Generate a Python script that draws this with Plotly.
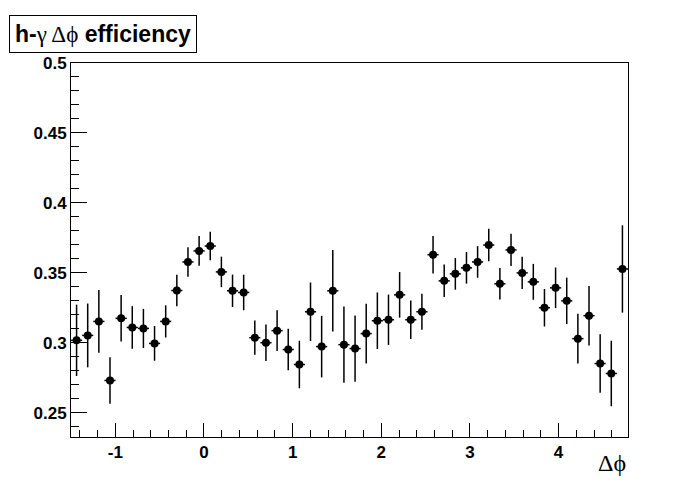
import numpy as np
import plotly.graph_objects as go

# ---- data ----
x_min = -1.5
n_bins = 50
bin_width = 2 * np.pi / n_bins

efficiency = [
    0.3018, 0.3053, 0.3153, 0.2731, 0.3175, 0.3110, 0.3103, 0.2996, 0.3153, 0.3374,
    0.3578, 0.3657, 0.3692, 0.3507, 0.3372, 0.3360, 0.3037, 0.3001, 0.3087, 0.2952,
    0.2845, 0.3222, 0.2973, 0.3372, 0.2987, 0.2959, 0.3066, 0.3158, 0.3165, 0.3343,
    0.3165, 0.3222, 0.3630, 0.3443, 0.3493, 0.3536, 0.3578, 0.3699, 0.3422, 0.3664,
    0.3500, 0.3436, 0.3251, 0.3393, 0.3300, 0.3030, 0.3194, 0.2852, 0.2781, 0.3528,
]
errors = [
    0.0255, 0.0228, 0.0224, 0.0166, 0.0166, 0.0152, 0.0140, 0.0124, 0.0115, 0.0113,
    0.0106, 0.0106, 0.0102, 0.0109, 0.0116, 0.0127, 0.0123, 0.0130, 0.0145, 0.0148,
    0.0170, 0.0209, 0.0220, 0.0291, 0.0273, 0.0237, 0.0213, 0.0202, 0.0180, 0.0163,
    0.0137, 0.0129, 0.0134, 0.0116, 0.0113, 0.0113, 0.0113, 0.0116, 0.0113, 0.0115,
    0.0116, 0.0128, 0.0134, 0.0145, 0.0166, 0.0177, 0.0213, 0.0209, 0.0234, 0.0312,
]
y_range = [0.2327, 0.5]
y_tick_vals = [0.25, 0.3, 0.35, 0.4, 0.45, 0.5]
y_tick_text = ["0.25", "0.3", "0.35", "0.4", "0.45", "0.5"]
x_tick_vals = [-1, 0, 1, 2, 3, 4]
x_tick_text = ["-1", "0", "1", "2", "3", "4"]

centers = [x_min + (i + 0.5) * bin_width for i in range(n_bins)]
x_range = [x_min, x_min + n_bins * bin_width]

W, H = 700, 500
# page body adds ~8px offset; compensate
off = 8
ml, mt = 71 - off, 63 - off
pw, ph = 557, 374
mr, mb = W - ml - pw, H - mt - ph

fig = go.Figure()
fig.add_trace(go.Scatter(
    x=centers, y=efficiency, mode="markers",
    marker=dict(color="black", size=8, symbol="circle"),
    error_y=dict(type="data", array=errors, visible=True, color="black", thickness=1.5, width=0),
    error_x=dict(type="constant", value=bin_width / 2, visible=True, color="black", thickness=1.5, width=0),
    showlegend=False,
))

axis_font = dict(family="Liberation Sans", size=17, color="black", weight="bold")

fig.update_xaxes(
    range=x_range, showgrid=False, zeroline=False,
    showline=True, linecolor="black", linewidth=1, mirror=True,
    ticks="inside", ticklen=14, tickwidth=1, tickcolor="black",
    tickvals=x_tick_vals, ticktext=x_tick_text, tickfont=axis_font,
    minor=dict(ticks="inside", ticklen=7, dtick=0.2, tick0=0, tickcolor="black", showgrid=False),
)
fig.update_yaxes(
    range=y_range, showgrid=False, zeroline=False,
    showline=True, linecolor="black", linewidth=1, mirror=True,
    ticks="inside", ticklen=16, tickwidth=1, tickcolor="black",
    tickvals=y_tick_vals, ticktext=y_tick_text, tickfont=axis_font,
    minor=dict(ticks="inside", ticklen=8, dtick=0.01, tick0=0, tickcolor="black", showgrid=False),
)

serif = "font-family:'Liberation Serif';font-weight:normal"
fig.add_annotation(
    xref="paper", yref="paper",
    x=(9 - 71) / pw, y=1 + (63 - 15) / ph,
    xanchor="left", yanchor="top",
    text=f"<b>h-</b><span style=\"{serif}\">γ Δϕ</span><b> efficiency</b>",
    showarrow=False,
    font=dict(family="Liberation Sans", size=23, color="black"),
    bordercolor="black", borderwidth=1, borderpad=5, bgcolor="white",
)
fig.add_annotation(
    xref="paper", yref="paper",
    x=1.0, y=-(448 - 437) / ph,
    xanchor="right", yanchor="top",
    text="Δϕ", showarrow=False,
    font=dict(family="Liberation Serif", size=24, color="black"),
)

fig.update_layout(
    width=W, height=H,
    margin=dict(l=ml, r=mr, t=mt, b=mb),
    paper_bgcolor="white", plot_bgcolor="white",
)

fig.write_html("out.html")
